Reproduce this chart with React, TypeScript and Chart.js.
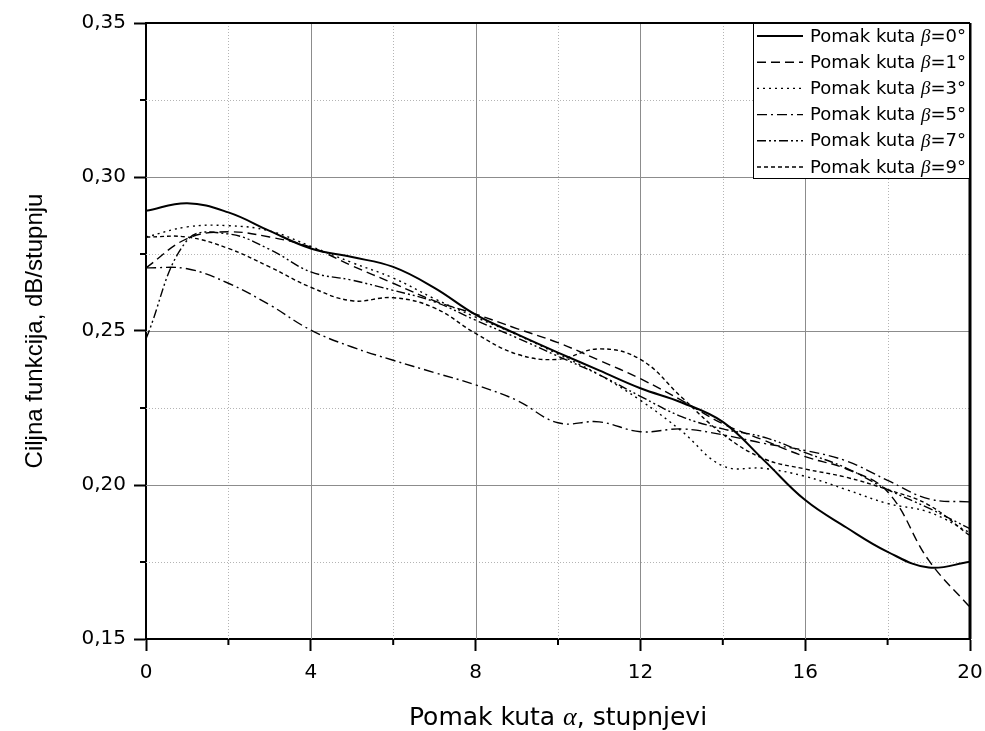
import React, { useEffect, useRef } from "react";
import { Chart, registerables } from "chart.js";

Chart.register(...registerables);

const X_VALUES = [0, 1, 2, 3, 4, 5, 6, 7, 8, 9, 10, 11, 12, 13, 14, 15, 16, 17, 18, 19, 20];

const BETA_0 = [0.289, 0.2915, 0.2885, 0.2825, 0.2768, 0.274, 0.2708, 0.264, 0.2553, 0.249, 0.243, 0.2372, 0.2314, 0.2268, 0.2205, 0.208, 0.1951, 0.1862, 0.1783, 0.1732, 0.1751];
const BETA_1 = [0.2705, 0.28, 0.2822, 0.2805, 0.2772, 0.2712, 0.2655, 0.2598, 0.2555, 0.2508, 0.2462, 0.2405, 0.2345, 0.2275, 0.2199, 0.2145, 0.2092, 0.2052, 0.1978, 0.1755, 0.1603];
const BETA_3 = [0.2805, 0.2838, 0.2842, 0.2825, 0.2775, 0.2722, 0.2672, 0.2605, 0.2545, 0.2488, 0.2425, 0.2358, 0.2275, 0.2175, 0.2062, 0.2054, 0.2028, 0.1985, 0.194, 0.1912, 0.1845];
const BETA_5 = [0.2705, 0.2702, 0.2655, 0.2585, 0.2503, 0.2448, 0.2405, 0.2365, 0.2325, 0.2275, 0.2202, 0.2205, 0.2173, 0.2182, 0.2163, 0.2135, 0.2112, 0.2078, 0.2015, 0.1955, 0.1945];
const BETA_7 = [0.2475, 0.2795, 0.2815, 0.2765, 0.2692, 0.2665, 0.2632, 0.2595, 0.2535, 0.2478, 0.2418, 0.2358, 0.2288, 0.2222, 0.2182, 0.2155, 0.2105, 0.2055, 0.1985, 0.1925, 0.1858];
const BETA_9 = [0.2805, 0.2805, 0.2768, 0.2708, 0.2642, 0.2598, 0.2608, 0.2575, 0.2492, 0.2425, 0.2408, 0.2442, 0.2408, 0.2285, 0.2165, 0.2085, 0.2052, 0.2025, 0.1985, 0.1935, 0.1835];

const SERIES_LABELS = ["0°", "1°", "3°", "5°", "7°", "9°"];
const SERIES_VALUES = [BETA_0, BETA_1, BETA_3, BETA_5, BETA_7, BETA_9];
const SERIES_DASHES: number[][] = [[], [9, 5], [2, 4], [10, 4, 2, 4], [9, 3, 2, 3, 2, 3], [4, 3]];
const SERIES_WIDTHS = [2, 1.4, 1.4, 1.4, 1.4, 1.4];

const X_MAJOR = [4, 8, 12, 16];
const X_MINOR = [2, 6, 10, 14, 18];
const Y_MAJOR = [0.2, 0.25, 0.3];
const Y_MINOR = [0.175, 0.225, 0.275, 0.325];

const SANS = "'Liberation Sans', Arial, sans-serif";
const WIDE = "'DejaVu Sans', 'Liberation Sans', sans-serif";
const SERIF = "'Liberation Serif', 'Times New Roman', serif";

function drawMixed(ctx: CanvasRenderingContext2D, parts: { t: string; f: string }[], x: number, y: number, center: boolean) {
  let total = 0;
  for (const p of parts) {
    ctx.font = p.f;
    total += ctx.measureText(p.t).width;
  }
  let cx = center ? x - total / 2 : x;
  ctx.textAlign = "left";
  for (const p of parts) {
    ctx.font = p.f;
    ctx.fillText(p.t, cx, y);
    cx += ctx.measureText(p.t).width;
  }
}

const decorPlugin = {
  id: "decor",
  beforeDatasetsDraw(chart: any) {
    const { ctx, chartArea } = chart;
    const { left, right, top, bottom } = chartArea;
    const xs = chart.scales.x;
    const ys = chart.scales.y;
    ctx.save();
    ctx.lineWidth = 1;
    ctx.strokeStyle = "#b4b4b4";
    ctx.setLineDash([1, 2]);
    for (const v of X_MINOR) {
      const p = Math.round(xs.getPixelForValue(v)) + 0.5;
      ctx.beginPath();
      ctx.moveTo(p, top);
      ctx.lineTo(p, bottom);
      ctx.stroke();
    }
    for (const v of Y_MINOR) {
      const p = Math.round(ys.getPixelForValue(v)) + 0.5;
      ctx.beginPath();
      ctx.moveTo(left, p);
      ctx.lineTo(right, p);
      ctx.stroke();
    }
    ctx.setLineDash([]);
    ctx.strokeStyle = "#8c8c8c";
    for (const v of X_MAJOR) {
      const p = Math.round(xs.getPixelForValue(v)) + 0.5;
      ctx.beginPath();
      ctx.moveTo(p, top);
      ctx.lineTo(p, bottom);
      ctx.stroke();
    }
    for (const v of Y_MAJOR) {
      const p = Math.round(ys.getPixelForValue(v)) + 0.5;
      ctx.beginPath();
      ctx.moveTo(left, p);
      ctx.lineTo(right, p);
      ctx.stroke();
    }
    ctx.restore();
  },
  afterDatasetsDraw(chart: any) {
    const { ctx, chartArea } = chart;
    const { left, right, top, bottom } = chartArea;
    const xs = chart.scales.x;
    const ys = chart.scales.y;
    ctx.save();
    ctx.strokeStyle = "#000";
    ctx.lineWidth = 2;
    ctx.beginPath();
    ctx.moveTo(left, top);
    ctx.lineTo(right, top);
    ctx.stroke();
    ctx.lineWidth = 3;
    ctx.beginPath();
    ctx.moveTo(right, top);
    ctx.lineTo(right, bottom);
    ctx.stroke();
    ctx.lineWidth = 2;
    for (const v of X_MINOR) {
      const p = xs.getPixelForValue(v);
      ctx.beginPath();
      ctx.moveTo(p, bottom);
      ctx.lineTo(p, bottom + 6);
      ctx.stroke();
    }
    for (const v of Y_MINOR) {
      const p = ys.getPixelForValue(v);
      ctx.beginPath();
      ctx.moveTo(left, p);
      ctx.lineTo(left - 6, p);
      ctx.stroke();
    }
    // legend
    const bw = 217;
    const bh = 156;
    const bx = right - bw;
    const by = top;
    ctx.fillStyle = "#fff";
    ctx.fillRect(bx, by, bw, bh);
    ctx.lineWidth = 1;
    ctx.strokeStyle = "#000";
    ctx.strokeRect(bx + 0.5, by + 0.5, bw - 1, bh - 1);
    ctx.fillStyle = "#000";
    ctx.textBaseline = "middle";
    SERIES_LABELS.forEach((lab, i) => {
      const cy = by + 13 + i * 26.2;
      ctx.save();
      ctx.lineWidth = SERIES_WIDTHS[i];
      ctx.setLineDash(SERIES_DASHES[i]);
      ctx.beginPath();
      ctx.moveTo(bx + 4, cy);
      ctx.lineTo(bx + 50, cy);
      ctx.stroke();
      ctx.restore();
      drawMixed(
        ctx,
        [
          { t: "Pomak kuta ", f: `18px ${WIDE}` },
          { t: "β", f: `italic 19px ${SERIF}` },
          { t: "=" + lab, f: `18px ${WIDE}` },
        ],
        bx + 57,
        cy + 1,
        false
      );
    });
    ctx.restore();
  },
  afterDraw(chart: any) {
    const { ctx, chartArea } = chart;
    const { left, right, top, bottom } = chartArea;
    ctx.save();
    ctx.fillStyle = "#000";
    ctx.textBaseline = "middle";
    ctx.save();
    ctx.translate(35, (top + bottom) / 2);
    ctx.rotate(-Math.PI / 2);
    ctx.textAlign = "center";
    ctx.font = `24px ${SANS}`;
    ctx.fillText("Ciljna funkcija, dB/stupnju", 0, 0);
    ctx.restore();
    drawMixed(
      ctx,
      [
        { t: "Pomak kuta ", f: `25px ${WIDE}` },
        { t: "α", f: `italic 26px ${SERIF}` },
        { t: ", stupnjevi", f: `25px ${WIDE}` },
      ],
      (left + right) / 2,
      718,
      true
    );
    ctx.restore();
  },
};

export default function App() {
  const ref = useRef<HTMLCanvasElement | null>(null);
  useEffect(() => {
    document.body.style.margin = "0";
    const canvas = ref.current;
    if (!canvas) return;
    const datasets = SERIES_VALUES.map((vals, i) => ({
      label: "Pomak kuta β=" + SERIES_LABELS[i],
      data: X_VALUES.map((x, j) => ({ x, y: vals[j] })),
      borderColor: "#000",
      borderWidth: SERIES_WIDTHS[i],
      borderDash: SERIES_DASHES[i],
      pointRadius: 0,
      tension: 0.4,
      fill: false,
    }));
    const chart = new Chart(canvas, {
      type: "line",
      data: { datasets },
      options: {
        responsive: false,
        animation: false,
        devicePixelRatio: 1,
        layout: { padding: { top: 23, right: 15, left: 0, bottom: 0 } },
        plugins: { legend: { display: false }, tooltip: { enabled: false } },
        scales: {
          x: {
            type: "linear",
            min: 0,
            max: 20,
            afterFit: (s: any) => {
              s.height = 92;
              s.paddingRight = 0;
              s.paddingLeft = 0;
            },
            ticks: {
              stepSize: 4,
              color: "#000",
              padding: 10,
              font: { family: WIDE, size: 20 },
              maxRotation: 0,
            },
            grid: { display: true, drawOnChartArea: false, drawTicks: true, tickLength: 12, tickWidth: 2, tickColor: "#000" },
            border: { display: true, color: "#000", width: 2 },
          },
          y: {
            type: "linear",
            min: 0.15,
            max: 0.35,
            afterFit: (s: any) => {
              s.width = 146;
              s.paddingTop = 0;
              s.paddingBottom = 0;
            },
            ticks: {
              stepSize: 0.05,
              color: "#000",
              padding: 8,
              font: { family: WIDE, size: 20 },
              callback: (v: any) => Number(v).toFixed(2).replace(".", ","),
            },
            grid: { display: true, drawOnChartArea: false, drawTicks: true, tickLength: 12, tickWidth: 2, tickColor: "#000" },
            border: { display: true, color: "#000", width: 2 },
          },
        },
      },
      plugins: [decorPlugin],
    });
    return () => chart.destroy();
  }, []);
  return (
    <div style={{ width: 985, height: 731, background: "#fff" }}>
      <canvas ref={ref} width={985} height={731} style={{ display: "block" }} />
    </div>
  );
}
